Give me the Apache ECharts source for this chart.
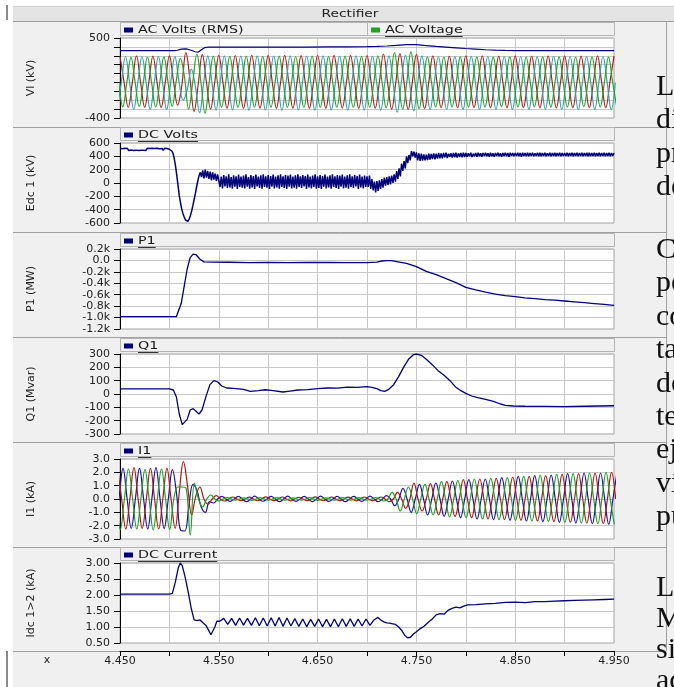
<!DOCTYPE html>
<html><head><meta charset="utf-8">
<script src="https://cdn.jsdelivr.net/npm/echarts@6.0.0/dist/echarts.min.js"></script>
<style>html,body{margin:0;padding:0;background:#fff;}#c{width:674px;height:687px;}</style>
</head><body><div id="c"></div>
<script>
// ================= DATA =================
const xTickLabels = ['4.450','','4.550','','4.650','','4.750','','4.850','','4.950'];
const vlTickLabels = ['-400','','','','','','','','','500'];
const edcTickLabels = ['-600','-400','-200','0','200','400','600'];
const p1TickLabels = ['-1.2k','-1.0k','-0.8k','-0.6k','-0.4k','-0.2k','0.0','0.2k'];
const q1TickLabels = ['-300','-200','-100','0','100','200','300'];
const i1TickLabels = ['-3.0','-2.0','-1.0','0.0','1.0','2.0','3.0'];
const idcTickLabels = ['0.50','1.00','1.50','2.00','2.50','3.00'];

// Panel 1: AC Volts (RMS)
const rmsTime = [4.45,4.505,4.508,4.512,4.517,4.522,4.526,4.529,4.532,4.536,4.54,4.56,4.58,4.60,4.62,4.64,4.66,4.68,4.70,4.71,4.72,4.73,4.74,4.745,4.75,4.76,4.77,4.78,4.79,4.80,4.81,4.82,4.83,4.84,4.85,4.95];
const rmsValue = [357,357,362,375,378,362,345,340,365,393,398,397,398,398,399,398,400,401,402,405,410,418,425,427,425,415,405,398,390,382,375,368,363,360,358,357];

// Panel 1: AC Voltage, three phases sampled every quarter cycle (60 Hz)
const acStep = 1/240;
const acRedStart = 4.45, acTealStart = 4.447222, acGreenStart = 4.444444;
const acRed = [295,0,-282,0, 298,0,-280,0, 296,0,-283,0, 300,15,-255,-40, 335,40,-325,-20, 315,0,-300,0,
 305,0,-290,0, 303,0,-292,0, 306,0,-288,0, 304,0,-291,0, 305,0,-289,0, 302,0,-292,0, 306,0,-290,0, 304,0,-288,0, 305,0,-291,0, 303,0,-290,0,
 320,0,-300,0, 325,0,-305,0, 315,0,-295,0,
 298,0,-285,0, 297,0,-286,0, 299,0,-284,0, 298,0,-285,0, 296,0,-286,0, 298,0,-284,0, 297,0,-285,0, 299,0,-286,0, 298,0,-285,0, 297,0,-284,0, 298,0,-285,0,
 297];
const acTeal = [-305,0,292,0, -303,0,290,0, -306,0,293,0, -305,0,290,10, -200,-80,150,-50, -340,0,300,0,
 -312,0,298,0, -310,0,296,0, -314,0,299,0, -311,0,297,0, -313,0,298,0, -310,0,296,0, -315,0,299,0, -312,0,297,0, -311,0,298,0, -313,0,296,0,
 -315,0,300,0, -335,0,305,0, -320,0,298,0,
 -305,0,292,0, -304,0,291,0, -306,0,293,0, -305,0,292,0, -303,0,290,0, -306,0,292,0, -305,0,291,0, -304,0,293,0, -306,0,292,0, -305,0,290,0, -304,0,292,0,
 -305,0];
const acGreen = [285,0,-275,0, 283,0,-272,0, 286,0,-276,0, 288,0,-270,20, 270,60,-300,0, 320,0,-345,0,
 295,0,-280,0, 293,0,-282,0, 296,0,-279,0, 294,0,-281,0, 295,0,-280,0, 292,0,-282,0, 296,0,-281,0, 294,0,-279,0, 295,0,-282,0, 293,0,-280,0,
 300,0,-285,0, 335,0,-300,0, 345,0,-295,0,
 287,0,-276,0, 286,0,-275,0, 288,0,-277,0, 287,0,-276,0, 285,0,-274,0, 288,0,-276,0, 286,0,-275,0, 287,0,-277,0, 288,0,-276,0, 286,0,-274,0, 287,0,-276,0,
 285,0,-275];

// Panel 2: DC Volts, sampled every 1.25 ms from 4.450 (20 samples per row = 25 ms)
const dcVoltsStart = 4.45, dcVoltsStep = 0.00125;
const dcVolts = [
 520,492,515,488,522,495,518,486,516,494,521,489,517,493,523,487,515,491,519,490,
 518,488,521,494,516,487,520,492,517,489,522,493,515,490,519,488,521,495,517,491,
 505,500,480,440,360,250,110,-40,-190,-300,-390,-460,-510,-555,-585,-575,-540,-490,-420,-340,
 -250,-160,-60,30,110,160,90,190,70,200,80,180,60,170,40,160,50,140,30,130,
 110,-60,95,-80,120,-50,100,-75,130,-65,90,-85,115,-55,100,-90,125,-60,95,-70,
 110,-80,130,-55,90,-85,120,-65,105,-90,125,-50,95,-75,115,-85,130,-60,100,-70,
 120,-90,105,-55,125,-80,95,-65,115,-85,130,-60,100,-75,120,-90,110,-55,125,-80,
 95,-70,115,-85,130,-60,100,-75,120,-50,105,-90,125,-65,95,-80,110,-60,130,-85,
 100,-75,120,-90,105,-55,125,-80,95,-65,115,-85,130,-60,100,-75,120,-90,110,-55,
 125,-80,95,-70,115,-85,130,-60,100,-75,120,-50,105,-90,125,-65,95,-80,110,-60,
 100,-60,110,-90,60,-110,20,-140,30,-120,40,-90,60,-70,80,-40,90,-30,100,-20,
 110,0,130,20,180,60,220,100,290,180,330,220,400,300,420,340,480,400,470,380,
 460,340,445,330,440,335,430,340,425,345,440,350,435,360,445,355,440,365,450,370,
 445,370,450,385,455,375,440,390,445,380,450,385,455,380,445,390,450,385,455,390,
 450,395,445,400,455,390,440,400,450,395,455,400,445,395,450,405,455,400,445,395,
 455,400,445,395,450,405,455,400,445,395,450,405,455,400,450,395,455,405,450,400,
 450,405,455,400,450,395,455,405,450,400,455,400,450,405,455,400,445,405,455,400,
 455,400,450,405,455,400,445,405,455,400,450,405,455,400,450,405,455,400,450,405,
 450,405,455,400,450,405,455,400,450,405,455,400,450,405,455,400,450,405,455,400,
 455,400,450,405,455,400,450,405,455,400,450,405,455,400,450,405,455,400,450,405,
 450];

// Panel 3: P1 (MW)
const p1Time = [4.45,4.507,4.509,4.512,4.515,4.518,4.521,4.524,4.527,4.531,4.535,4.545,4.56,4.58,4.60,4.62,4.64,4.66,4.68,4.70,4.71,4.715,4.72,4.725,4.73,4.74,4.75,4.76,4.77,4.78,4.79,4.80,4.81,4.82,4.83,4.84,4.85,4.86,4.87,4.88,4.89,4.90,4.91,4.92,4.93,4.94,4.95];
const p1Value = [-985,-985,-950,-750,-450,-150,50,110,100,20,-25,-28,-32,-38,-35,-38,-34,-36,-37,-38,-30,-10,-3,-5,-20,-50,-110,-190,-250,-320,-390,-470,-515,-555,-590,-615,-635,-655,-670,-685,-695,-710,-725,-740,-755,-770,-785];

// Panel 4: Q1 (Mvar)
const q1Time = [4.45,4.50,4.504,4.507,4.510,4.513,4.515,4.518,4.521,4.524,4.527,4.530,4.533,4.537,4.541,4.545,4.549,4.553,4.558,4.565,4.575,4.582,4.59,4.597,4.605,4.615,4.622,4.63,4.64,4.65,4.66,4.67,4.68,4.69,4.70,4.705,4.71,4.714,4.718,4.722,4.727,4.732,4.737,4.742,4.747,4.75,4.755,4.76,4.766,4.772,4.778,4.784,4.79,4.795,4.80,4.806,4.812,4.82,4.828,4.835,4.84,4.848,4.86,4.88,4.90,4.92,4.935,4.95];
const q1Value = [38,38,30,-20,-150,-230,-240,-190,-120,-110,-130,-150,-120,-20,70,100,90,60,45,42,35,20,25,32,25,15,22,30,33,40,45,44,52,50,55,50,40,25,20,35,70,130,200,260,295,300,290,260,220,175,140,100,50,25,5,-15,-28,-40,-55,-75,-85,-90,-92,-93,-95,-92,-90,-88];

// Panel 5: I1 (kA), three phases sampled every quarter cycle
const i1Step = 1/240;
const i1RedStart = 4.4475, i1BlueStart = 4.444722, i1GreenStart = 4.441944;
const i1Red = [2.3,0,-2.25,0, 2.35,0,-2.2,0, 2.3,0,-2.25,0, 2.3,0,-2.2,0.5, 2.8,1.0,-1.2,0.2, 0.9,0,-0.4,0, 0.25,0,-0.15,0,
 0.15,0,-0.12,0, 0.14,0,-0.13,0, 0.16,0,-0.12,0, 0.15,0,-0.14,0, 0.13,0,-0.12,0, 0.16,0,-0.13,0, 0.15,0,-0.12,0, 0.14,0,-0.14,0, 0.15,0,-0.12,0,
 0.15,0,-0.2,0, 0.5,0,-0.7,0, 1.2,0,-0.9,0, 1.15,0,-1.2,0, 1.3,0,-1.3,0, 1.45,0,-1.4,0, 1.5,0,-1.5,0, 1.55,0,-1.55,0, 1.65,0,-1.6,0, 1.7,0,-1.65,0, 1.75,0,-1.7,0, 1.85,0,-1.75,0, 1.9,0,-1.8,0, 1.95,0,-1.85,0,
 2.0,0];
const i1Blue = [-2.25,0,2.3,0, -2.2,0,2.3,0, -2.25,0,2.35,0, -2.2,0,2.2,0.4, -2.35,-2.4,-0.5,1.1, 0.6,-0.6,-1.0,-0.2, -0.3,0,0.2,0,
 -0.18,0,0.2,0, -0.2,0,0.22,0, -0.17,0,0.19,0, -0.2,0,0.21,0, -0.18,0,0.2,0, -0.19,0,0.22,0, -0.18,0,0.2,0, -0.2,0,0.19,0, -0.18,0,0.21,0,
 -0.2,0,0.25,0, -0.5,0,0.8,0, -1.0,0,1.1,0, -1.2,0,1.2,0, -1.3,0,1.35,0, -1.4,0,1.45,0, -1.5,0,1.5,0, -1.55,0,1.6,0, -1.6,0,1.7,0, -1.65,0,1.75,0, -1.7,0,1.8,0, -1.75,0,1.9,0, -1.8,0,1.95,0, -1.85,0,1.95,0,
 -1.9,0,2.0];
const i1Green = [2.2,0,-2.3,0, 2.25,0,-2.25,0, 2.2,0,-2.3,0, 2.25,0,-2.3,0, 0.9,0.9,0.8,-2.7, 1.2,0,-0.6,0, 0.3,0,-0.15,0,
 0.1,0,-0.08,0, 0.09,0,-0.1,0, 0.11,0,-0.08,0, 0.1,0,-0.09,0, 0.08,0,-0.08,0, 0.1,0,-0.1,0, 0.09,0,-0.08,0, 0.11,0,-0.09,0, 0.1,0,-0.08,0,
 0.1,0,-0.15,0, 0.5,0,-0.9,0, 0.9,0,-1.1,0, 1.1,0,-1.2,0, 1.3,0,-1.35,0, 1.4,0,-1.4,0, 1.5,0,-1.5,0, 1.55,0,-1.55,0, 1.6,0,-1.6,0, 1.7,0,-1.65,0, 1.8,0,-1.7,0, 1.85,0,-1.75,0, 1.9,0,-1.8,0, 1.95,0,-1.85,0,
 2.0,0,-1.9];

// Panel 6: DC Current (kA)
const idcTime = [4.45,4.50,4.503,4.506,4.509,4.511,4.513,4.516,4.519,4.522,4.525,4.528,4.531,4.534,4.537,4.540,4.542,4.544,4.546,4.548,4.551,
 4.555,4.559,4.563,4.567,4.571,4.575,4.579,4.583,4.587,4.591,4.595,4.599,4.603,4.607,4.611,4.615,4.619,4.623,4.627,4.631,
 4.635,4.639,4.643,4.647,4.651,4.655,4.659,4.663,4.667,4.671,4.675,4.679,4.683,4.687,4.691,4.695,4.699,4.703,
 4.707,4.711,4.714,4.717,4.720,4.723,4.726,4.729,4.732,4.735,4.738,4.741,4.744,4.747,4.750,4.754,4.758,4.762,4.766,4.770,
 4.774,4.778,4.782,4.786,4.790,4.794,4.798,4.802,4.81,4.82,4.83,4.84,4.85,4.86,4.87,4.88,4.89,4.90,4.91,4.92,4.93,4.94,4.95];
const idcValue = [2.03,2.03,2.05,2.4,2.85,3.0,2.92,2.55,2.1,1.6,1.22,1.2,1.22,1.13,1.05,0.88,0.76,0.82,1.0,1.18,1.18,
 1.27,1.08,1.27,1.05,1.28,1.06,1.27,1.05,1.29,1.04,1.28,1.03,1.29,1.03,1.30,1.02,1.28,1.03,1.26,1.02,
 1.25,1.01,1.24,1.02,1.25,1.01,1.24,1.01,1.25,1.01,1.26,1.02,1.26,1.02,1.25,1.03,1.25,1.05,
 1.22,1.30,1.22,1.16,1.13,1.12,1.10,1.08,1.0,0.9,0.75,0.66,0.68,0.78,0.85,0.95,1.03,1.15,1.25,1.38,
 1.42,1.40,1.52,1.58,1.62,1.60,1.65,1.69,1.70,1.72,1.74,1.77,1.78,1.76,1.79,1.79,1.81,1.82,1.83,1.84,1.85,1.86,1.87];

// Right-hand document fragment (cut by the image edge)
const docText = ['La','di','pr','de','Co','pe','co','ta','de','te','ej','vi','pu','La','Mi','si','ac'];

// ================= CHART =================
const FONT = '"DejaVu Sans", "Liberation Sans", sans-serif';
const NAVY = '#00007a';
const X0 = 4.45, X1 = 4.95, XSTEP = 0.05;
const plotLeft = 120, plotW = 494, plotH = 80;
const panels = [
  {top:38,  name:'Vl (kV)',      min:-400, max:500, step:100, labels:vlTickLabels},
  {top:143, name:'Edc 1 (kV)',   min:-600, max:600, step:200, labels:edcTickLabels},
  {top:249, name:'P1 (MW)',      min:-1200,max:200, step:200, labels:p1TickLabels},
  {top:354, name:'Q1 (Mvar)',    min:-300, max:300, step:100, labels:q1TickLabels},
  {top:459, name:'I1 (kA)',      min:-3,   max:3,   step:1,   labels:i1TickLabels},
  {top:563, name:'Idc 1>2 (kA)', min:0.5,  max:3,   step:0.5, labels:idcTickLabels}
];

const build = (t0, dt, vals) => vals.map((v, i) => [t0 + i * dt, v]);
const zip = (ts, vs) => ts.map((t, i) => [t, vs[i]]);

const grids = panels.map(p => ({left:plotLeft, top:p.top, width:plotW, height:plotH, show:true,
  backgroundColor:'#ffffff', borderColor:'#a4a4a4', borderWidth:1, containLabel:false, outerBoundsMode:'none'}));

const xAxes = panels.map((p, i) => {
  const last = i === panels.length - 1;
  return {type:'value', gridIndex:i, min:X0, max:X1, interval:XSTEP, offset: last ? 8 : 0,
    axisLine:{show:last, onZero:false, lineStyle:{color:'#000', width:1}},
    axisTick:{show:last, length:5, lineStyle:{color:'#000'}},
    axisLabel:{show:last, margin:5, fontSize:11, fontFamily:FONT, color:'#222',
      formatter: v => xTickLabels[Math.round((v - X0) / XSTEP)] || ''},
    splitLine:{show:true, lineStyle:{color:'#c8c8c8', width:1}}};
});

const yAxes = panels.map((p, i) => ({type:'value', gridIndex:i, min:p.min, max:p.max, interval:p.step,
  name:p.name, nameLocation:'middle', nameRotate:90, nameGap:83,
  nameTextStyle:{fontSize:11, fontFamily:FONT, color:'#222'},
  axisLine:{show:true, onZero:false, lineStyle:{color:'#000', width:1}},
  axisTick:{show:true, length:6, lineStyle:{color:'#000'}},
  axisLabel:{margin:10, fontSize:11, fontFamily:FONT, color:'#222',
    formatter: v => p.labels[Math.round((v - p.min) / p.step)] || ''},
  splitLine:{show:true, lineStyle:{color:'#c8c8c8', width:1}}}));

function line(idx, data, color, width, smooth) {
  return {type:'line', xAxisIndex:idx, yAxisIndex:idx, data:data, showSymbol:false, symbol:'none',
    smooth: smooth ? 0.4 : false, animation:false, silent:true, clip:true,
    lineStyle:{color:color, width:width}, z:3};
}

const series = [
  line(0, build(acRedStart, acStep, acRed), '#ae1c1c', 1.2, true),
  line(0, build(acTealStart, acStep, acTeal), '#2ba5ab', 1.2, true),
  line(0, build(acGreenStart, acStep, acGreen), '#26a126', 1.2, true),
  line(0, zip(rmsTime, rmsValue), NAVY, 1.2, false),
  line(1, build(dcVoltsStart, dcVoltsStep, dcVolts), NAVY, 1.5, false),
  line(2, zip(p1Time, p1Value), NAVY, 1.3, false),
  line(3, zip(q1Time, q1Value), NAVY, 1.3, false),
  line(4, build(i1BlueStart, i1Step, i1Blue), '#1212a8', 1.2, true),
  line(4, build(i1RedStart, i1Step, i1Red), '#b01414', 1.2, true),
  line(4, build(i1GreenStart, i1Step, i1Green), '#1ea01e', 1.2, true),
  line(5, zip(idcTime, idcValue), NAVY, 1.3, false)
];

// ---------- decorations (frame, legends, titles) ----------
const g = [];
const measure = (() => { const c = document.createElement('canvas').getContext('2d');
  return (txt, font) => { c.font = font; return c.measureText(txt).width; }; })();
const LEG_SX = 1.3, LEG_FS = 11;
g.push({type:'rect', z:-20, shape:{x:13, y:6, width:661, height:681}, style:{fill:'#f0f0f0'}});
g.push({type:'rect', z:-19, shape:{x:13, y:6, width:661, height:15}, style:{fill:'#e4e4e4'}});
g.push({type:'line', z:-18, shape:{x1:13, y1:6.5, x2:674, y2:6.5}, style:{stroke:'#cfcfcf', lineWidth:1}});
g.push({type:'line', z:-18, shape:{x1:13, y1:21.5, x2:674, y2:21.5}, style:{stroke:'#9c9c9c', lineWidth:1}});
g.push({type:'line', z:-18, shape:{x1:7, y1:5, x2:7, y2:20}, style:{stroke:'#8a8a8a', lineWidth:2}});
g.push({type:'line', z:-18, shape:{x1:7, y1:651, x2:7, y2:687}, style:{stroke:'#8a8a8a', lineWidth:2}});
g.push({type:'line', z:-18, shape:{x1:666.5, y1:21, x2:666.5, y2:651}, style:{stroke:'#a0a0a0', lineWidth:1}});
[127.5, 232.5, 337.5, 442.5, 547.5, 651.5].forEach(y => {
  g.push({type:'line', z:-18, shape:{x1:13, y1:y, x2:666, y2:y}, style:{stroke:'#a0a0a0', lineWidth:1}});
});
g.push({type:'text', z:20, x:350, y:14, scaleX:1.25, originX:0,
  style:{text:'Rectifier', font:'11px ' + FONT, fill:'#222', align:'center', verticalAlign:'middle'}});
g.push({type:'text', z:20, x:47, y:660,
  style:{text:'x', font:'11px ' + FONT, fill:'#222', align:'center', verticalAlign:'middle'}});

const legends = [
  [{x0:120, x1:367, mx:124, text:'AC Volts (RMS)', color:NAVY, ul:false},
   {x0:367, x1:614, mx:371, text:'AC Voltage', color:'#26a126', ul:true}],
  [{x0:120, x1:614, mx:124, text:'DC Volts', color:NAVY, ul:true}],
  [{x0:120, x1:614, mx:124, text:'P1', color:NAVY, ul:true}],
  [{x0:120, x1:614, mx:124, text:'Q1', color:NAVY, ul:true}],
  [{x0:120, x1:614, mx:124, text:'I1', color:NAVY, ul:true}],
  [{x0:120, x1:614, mx:124, text:'DC Current', color:NAVY, ul:true}]
];
legends.forEach((items, i) => {
  const top = panels[i].top, cy = top - 8;
  items.forEach(it => {
    g.push({type:'rect', z:-10, shape:{x:it.x0 + 0.5, y:top - 15.5, width:it.x1 - it.x0, height:13},
      style:{fill:'#f0f0f0', stroke:'#b4b4b4', lineWidth:1}});
    g.push({type:'rect', z:20, shape:{x:it.mx, y:cy - 2.5, width:9, height:5}, style:{fill:it.color}});
    const tx = it.mx + 14;
    g.push({type:'text', z:20, x:tx, y:cy, scaleX:LEG_SX, originX:0,
      style:{text:it.text, font:LEG_FS + 'px ' + FONT, fill:'#1a1a1a', verticalAlign:'middle'}});
    if (it.ul) {
      const w = measure(it.text, LEG_FS + 'px ' + FONT) * LEG_SX;
      g.push({type:'line', z:20, shape:{x1:tx, y1:cy + 6.5, x2:tx + w, y2:cy + 6.5}, style:{stroke:'#333', lineWidth:1}});
    }
  });
});

const docBase = [97,130,164,197, 260,293,327,360,394,427,460,494,527, 598,629,660,691];
docText.forEach((t, i) => {
  g.push({type:'text', z:30, x:656, y:docBase[i] - 10,
    style:{text:t, font:'30px "Liberation Serif", "DejaVu Serif", serif', fill:'#111', verticalAlign:'middle'}});
});

const chart = echarts.init(document.getElementById('c'), null, {renderer:'canvas'});
chart.setOption({
  backgroundColor:'#ffffff', animation:false,
  grid:grids, xAxis:xAxes, yAxis:yAxes, series:series,
  graphic:{elements:g}
});
</script></body></html>
